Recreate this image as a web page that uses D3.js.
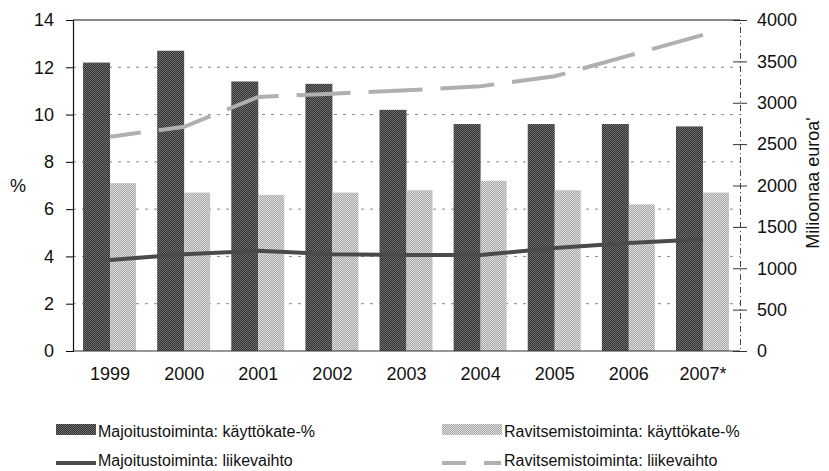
<!DOCTYPE html>
<html>
<head>
<meta charset="utf-8">
<script src="https://cdn.jsdelivr.net/npm/d3@7"></script>
<style>
  body { margin: 0; background: #fff; }
  text { font-family: "Liberation Sans", Arial, sans-serif; fill: #111; }
</style>
</head>
<body>
<div id="chart"></div>
<script>
//----------------------------DATA------------------------------//
var years = ["1999", "2000", "2001", "2002", "2003", "2004", "2005", "2006", "2007*"];
var majoitusKate = [12.2, 12.7, 11.4, 11.3, 10.2, 9.6, 9.6, 9.6, 9.5];
var ravitsemisKate = [7.1, 6.7, 6.6, 6.7, 6.8, 7.2, 6.8, 6.2, 6.7];
var majoitusLv = [1100, 1170, 1210, 1170, 1160, 1160, 1245, 1305, 1350];
var ravitsemisLv = [2590, 2710, 3070, 3110, 3150, 3200, 3320, 3570, 3820];
var leftTicks = [0, 2, 4, 6, 8, 10, 12, 14];
var rightTicks = [0, 500, 1000, 1500, 2000, 2500, 3000, 3500, 4000];

//--------------------------SVG---------------------------------//
var W = 829, H = 471;
var svg = d3.select("#chart").append("svg")
    .attr("width", W)
    .attr("height", H);

// halftone-ish fills
var defs = svg.append("defs");
function checker(id, a, b) {
    var p = defs.append("pattern").attr("id", id)
        .attr("width", 2).attr("height", 2)
        .attr("patternUnits", "userSpaceOnUse");
    p.append("rect").attr("width", 2).attr("height", 2).attr("fill", a);
    p.append("rect").attr("width", 1).attr("height", 1).attr("fill", b);
    p.append("rect").attr("x", 1).attr("y", 1).attr("width", 1).attr("height", 1).attr("fill", b);
}
checker("darkFill", "#333", "#6e6e6e");
checker("lightFill", "#a8a8a8", "#dcdcdc");

var pLeft = 73, pRight = 740, pTop = 20, pBottom = 351;

//--------------------------SCALES------------------------------//
var x = d3.scaleBand().domain(years).range([pLeft, pRight]);
var yL = d3.scaleLinear().domain([0, 14]).range([pBottom, pTop]);
var yR = d3.scaleLinear().domain([0, 4000]).range([pBottom, pTop]);
var barW = 27;

//--------------------------GRID--------------------------------//
svg.append("g").selectAll("line")
    .data(leftTicks.filter(function(d) { return d > 0 && d < 14; }))
    .enter().append("line")
    .attr("x1", pLeft).attr("x2", pRight)
    .attr("y1", function(d) { return yL(d); })
    .attr("y2", function(d) { return yL(d); })
    .attr("stroke", "#888")
    .attr("stroke-width", 1)
    .attr("stroke-dasharray", "3,6");

//--------------------------BARS--------------------------------//
svg.append("g").selectAll("rect")
    .data(majoitusKate)
    .enter().append("rect")
    .attr("x", function(d, i) { return x(years[i]) + x.bandwidth() / 2 - barW; })
    .attr("y", function(d) { return yL(d); })
    .attr("width", barW)
    .attr("height", function(d) { return pBottom - yL(d); })
    .attr("fill", "url(#darkFill)");

svg.append("g").selectAll("rect")
    .data(ravitsemisKate)
    .enter().append("rect")
    .attr("x", function(d, i) { return x(years[i]) + x.bandwidth() / 2; })
    .attr("y", function(d) { return yL(d); })
    .attr("width", barW - 1)
    .attr("height", function(d) { return pBottom - yL(d); })
    .attr("fill", "url(#lightFill)");

//--------------------------LINES-------------------------------//
var line = d3.line()
    .x(function(d, i) { return x(years[i]) + x.bandwidth() / 2; })
    .y(function(d) { return yR(d); });

svg.append("path")
    .attr("d", line(majoitusLv))
    .attr("fill", "none")
    .attr("stroke", "#4a4a4a")
    .attr("stroke-width", 4);

svg.append("path")
    .attr("d", line(ravitsemisLv))
    .attr("fill", "none")
    .attr("stroke", "#b0b0b0")
    .attr("stroke-width", 4)
    .attr("stroke-dasharray", "54,18")
    .attr("stroke-dashoffset", 23);

//--------------------------AXES--------------------------------//
// frame lines
svg.append("line").attr("x1", pLeft).attr("x2", pRight).attr("y1", pTop).attr("y2", pTop)
    .attr("stroke", "#111").attr("stroke-width", 1.2);
svg.append("line").attr("x1", pLeft).attr("x2", pRight).attr("y1", pBottom).attr("y2", pBottom)
    .attr("stroke", "#333").attr("stroke-width", 1);

var axL = svg.append("g")
    .attr("transform", "translate(" + pLeft + ",0)")
    .call(d3.axisLeft(yL).tickValues(leftTicks).tickSize(7).tickPadding(12));
axL.select(".domain").attr("stroke", "#111").attr("stroke-width", 1.2);
axL.selectAll("text").style("font-size", "18px").attr("fill", "#111")
    .attr("font-family", "Liberation Sans, Arial, sans-serif");

var axR = svg.append("g")
    .attr("transform", "translate(" + pRight + ",0)")
    .call(d3.axisRight(yR).tickValues(rightTicks).tickFormat(d3.format("d"))
        .tickSize(7).tickPadding(10));
axR.select(".domain").attr("stroke", "#444").attr("stroke-dasharray", "6,3,1,3");
axR.selectAll(".tick line").attr("x1", -7).attr("stroke", "#333");
axR.selectAll("text").style("font-size", "18px").attr("fill", "#111")
    .attr("font-family", "Liberation Sans, Arial, sans-serif");

var axB = svg.append("g")
    .attr("transform", "translate(0," + pBottom + ")")
    .call(d3.axisBottom(x).tickSize(0).tickPadding(16));
axB.select(".domain").remove();
axB.selectAll("text").style("font-size", "18px").attr("fill", "#111")
    .attr("font-family", "Liberation Sans, Arial, sans-serif");

// axis titles
svg.append("text")
    .attr("x", 10).attr("y", 192)
    .style("font-size", "18px")
    .text("%");

svg.append("text")
    .attr("transform", "translate(819,183) rotate(-90)")
    .attr("text-anchor", "middle")
    .style("font-size", "18px")
    .text("Milioonaa euroa'");

//--------------------------LEGEND------------------------------//
var lg = svg.append("g").style("font-size", "16px");

lg.append("rect").attr("x", 56).attr("y", 424).attr("width", 40).attr("height", 11)
    .attr("fill", "url(#darkFill)");
lg.append("text").attr("x", 98).attr("y", 437).text("Majoitustoiminta: käyttökate-%");

lg.append("rect").attr("x", 442).attr("y", 424).attr("width", 60).attr("height", 11)
    .attr("fill", "url(#lightFill)");
lg.append("text").attr("x", 504).attr("y", 437).text("Ravitsemistoiminta: käyttökate-%");

lg.append("line").attr("x1", 56).attr("x2", 96).attr("y1", 463).attr("y2", 463)
    .attr("stroke", "#4a4a4a").attr("stroke-width", 4);
lg.append("text").attr("x", 98).attr("y", 466).text("Majoitustoiminta: liikevaihto");

lg.append("line").attr("x1", 442).attr("x2", 501).attr("y1", 463).attr("y2", 463)
    .attr("stroke", "#b0b0b0").attr("stroke-width", 4).attr("stroke-dasharray", "24,18");
lg.append("text").attr("x", 504).attr("y", 466).text("Ravitsemistoiminta: liikevaihto");
</script>
</body>
</html>
